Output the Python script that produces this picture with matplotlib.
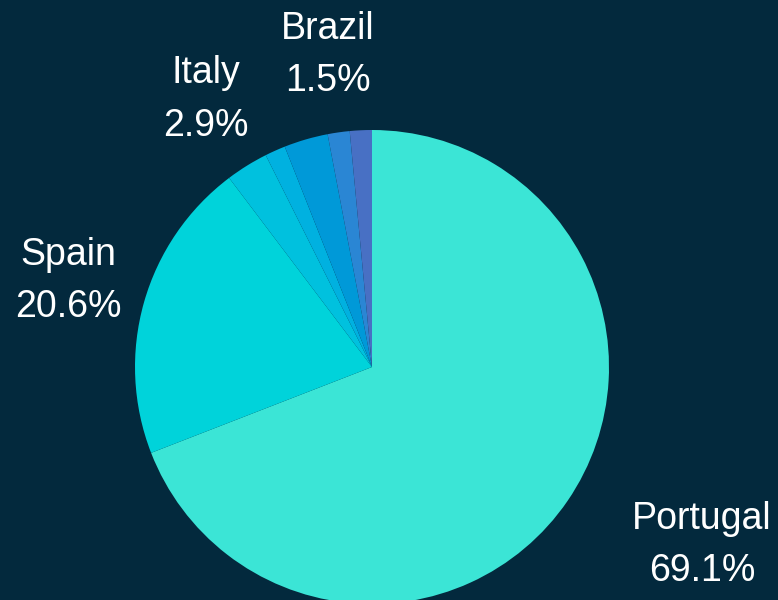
"""Pie chart of share by country."""

import numpy as np
import matplotlib

matplotlib.use("Agg")
from matplotlib import pyplot as plt

# data, clockwise from 12 o'clock
countries = ["Portugal", "Spain", "Italy", "France", "Germany", "Brazil", "Others"]
shares = [69.1, 20.6, 2.9, 1.4, 3.0, 1.5, 1.5]
shown = ["Portugal", "Spain", "Italy", "Brazil"]

colors = ["#3be5d6", "#00d3da", "#00c1de", "#00b1e0", "#0099d8", "#2a86d4", "#4870c4"]
bg = "#03293d"


def run():
    plt.rcParams["font.family"] = ["Liberation Sans", "DejaVu Sans"]
    fig = plt.figure(figsize=(7.78, 6), dpi=100, facecolor=bg)
    # pie centre at (372, 367) px, radius 237 px
    ax = fig.add_axes([135 / 778, (600 - 367 - 237) / 600, 474 / 778, 474 / 600])
    ax.set_facecolor(bg)
    ax.pie(
        shares,
        colors=colors,
        startangle=90,
        counterclock=False,
        radius=1.0,
        wedgeprops={"linewidth": 0},
    )
    ax.set_xlim(-1, 1)
    ax.set_ylim(-1, 1)
    ax.set_axis_off()

    total = sum(shares)
    start = 0.0
    for name, val in zip(countries, shares):
        mid = (start + val / 2) / total * 2 * np.pi
        start += val
        if name not in shown:
            continue
        d = 1.33
        x, y = d * np.sin(mid), d * np.cos(mid)
        ha = "left" if name == "Portugal" else "center"
        ax.text(
            x, y, f"{name}\n{val / total * 100:.1f}%",
            ha=ha, va="center", multialignment="center",
            fontsize=27, color="white", linespacing=1.6, clip_on=False,
        )

    fig.savefig("out.png", facecolor=bg)


if __name__ == "__main__":
    run()
